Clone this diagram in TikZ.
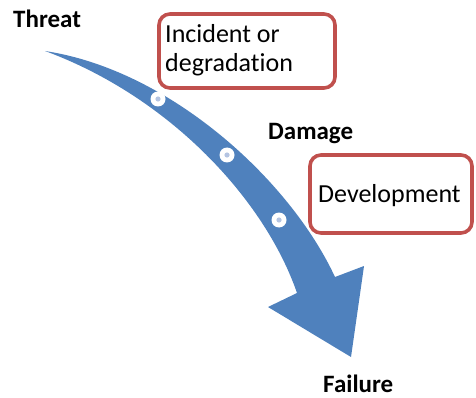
\documentclass[tikz,border=0pt]{standalone}
\usepackage{fontspec}
\setmainfont{Carlito}[Ligatures={NoCommon}]
\begin{document}
\begin{tikzpicture}[x=1pt,y=-1pt,
  flow/.style={fill=arrowblue, draw=none},
  stagebox/.style={draw=boxred, line width=3.6pt, rounded corners=11pt, fill=white, inner sep=0pt},
  marker/.style={circle, fill=white, minimum size=15pt, inner sep=0pt,
    path picture={\fill[dotblue] (path picture bounding box.center) circle (2.6pt);}},
  plain/.style={inner sep=0pt, font=\fontsize{26}{29}\selectfont},
  stage/.style={inner sep=0pt, font=\fontsize{25}{29}\selectfont\bfseries},
]
\definecolor{arrowblue}{HTML}{4F81BD}
\definecolor{boxred}{HTML}{C0504D}
\definecolor{dotblue}{HTML}{B4C4E2}
\useasboundingbox (0,0) rectangle (476,398);

% curved arrow from threat to failure
\fill[flow] (45,51) .. controls (170,70) and (290,180) .. (335,277)
  -- (364,266) -- (351,357) -- (268,307) -- (297,293)
  .. controls (265,200) and (170,97) .. (45,51) -- cycle;

% markers along the arrow
\node[marker] (m1) at (158,99) {};
\node[marker] (m2) at (227,155) {};
\node[marker] (m3) at (279,220) {};

% framed boxes
\node[stagebox, minimum width=176pt, minimum height=74pt] (incident) at (247,51) {};
\node[plain, anchor=base west] (incident1) at (165,43) {Incident or};
\node[plain, anchor=base west] (incident2) at (165,72) {degradation};

\node[stagebox, minimum width=162pt, minimum height=78pt] (develop) at (391,194) {};
\node[plain, anchor=base west] (developtext) at (318,202) {Development};

% stage labels
\node[stage, anchor=base west] (threat) at (13,28) {Threat};
\node[stage, anchor=base west] (damage) at (268,140) {Damage};
\node[stage, anchor=base west] (failure) at (323,392) {Failure};
\end{tikzpicture}
\end{document}
